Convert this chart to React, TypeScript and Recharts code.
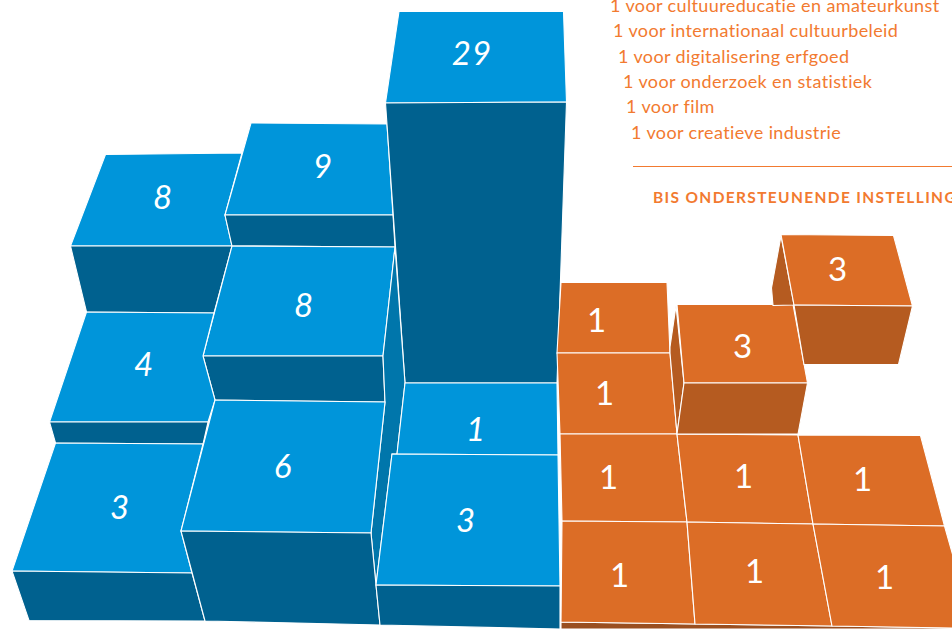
import { Polygon, ReferenceLine, Scatter, ScatterChart, XAxis, YAxis } from "recharts";

type Pt = [number, number];

// values printed on the blocks
const blueValues = [8, 9, 29, 8, 4, 1, 6, 3, 3];
const orangeValues = [1, 1, 1, 1, 3, 3, 1, 1, 1, 1];

const legendLines = [
  "1 voor cultuureducatie en amateurkunst",
  "1 voor internationaal cultuurbeleid",
  "1 voor digitalisering erfgoed",
  "1 voor onderzoek en statistiek",
  "1 voor film",
  "1 voor creatieve industrie"
];
const heading = "BIS ONDERSTEUNENDE INSTELLING";

const BLUE = "#0095da";
const BLUE_DARK = "#00618f";
const BLUE_SIDE = "#0076ab";
const ORANGE = "#dc6d26";
const ORANGE_DARK = "#b55b20";
const ORANGE_FLOOR = "#9a4f20";
const TEXT = "#f27a30";

// the picture is a hand drawn block pile, so the faces are laid out in axis units
const faces: { color: string; pts: Pt[] }[] = [
  { color: BLUE, pts: [[105.5, 154.5], [242, 153], [225, 215], [232, 246], [70.5, 246]] },
  { color: BLUE_DARK, pts: [[70.5, 246], [232, 246], [214, 313], [86.5, 312]] },
  { color: BLUE, pts: [[251, 123], [387, 124], [393, 215], [225, 215]] },
  { color: BLUE_DARK, pts: [[225, 215], [393, 215], [395, 247], [232, 246]] },
  { color: BLUE, pts: [[399, 11.5], [563.5, 11.5], [566.5, 102], [385.5, 103]] },
  { color: BLUE_DARK, pts: [[385.5, 103], [566.5, 102], [557, 383], [405, 383]] },
  { color: BLUE, pts: [[232, 246], [395, 247], [383, 356], [203, 356]] },
  { color: BLUE_DARK, pts: [[203, 356], [383, 356], [385, 402], [215, 400]] },
  { color: BLUE_SIDE, pts: [[395, 247], [405, 383], [397, 454], [392, 454], [376, 585], [371, 533], [385, 402], [383, 356]] },
  { color: BLUE, pts: [[86.5, 312], [214, 313], [203, 356], [215, 400], [208, 422], [49.5, 422]] },
  { color: BLUE_DARK, pts: [[49.5, 422], [208, 422], [203, 444], [55.5, 443]] },
  { color: BLUE, pts: [[55.5, 443], [203, 444], [181, 531], [192, 573], [12, 571]] },
  { color: BLUE_DARK, pts: [[12, 571], [192, 573], [205, 621], [29, 620.5]] },
  { color: BLUE, pts: [[215, 400], [385, 402], [371, 533], [181, 531]] },
  { color: BLUE_DARK, pts: [[181, 531], [371, 533], [376, 585], [380, 625], [205, 621]] },
  { color: BLUE, pts: [[405, 383], [557, 383], [558, 455], [397, 454]] },
  { color: BLUE, pts: [[392, 454], [558, 455], [560, 586], [376, 585]] },
  { color: BLUE_DARK, pts: [[376, 585], [560, 586], [560, 629], [380, 625]] },
  { color: ORANGE_FLOOR, pts: [[561, 622], [695, 624], [832, 626], [952, 628], [952, 629], [561, 629]] },
  { color: ORANGE, pts: [[561, 282.5], [667, 282.5], [670, 353], [557, 353]] },
  { color: ORANGE, pts: [[557, 353], [670, 353], [677, 434], [560, 434]] },
  { color: ORANGE, pts: [[560, 434], [677, 434], [687, 522], [562, 521]] },
  { color: ORANGE, pts: [[562, 521], [687, 522], [695, 624], [561, 622]] },
  { color: ORANGE, pts: [[677, 434], [798, 435], [813, 524], [687, 522]] },
  { color: ORANGE, pts: [[687, 522], [813, 524], [832, 626], [695, 624]] },
  { color: ORANGE, pts: [[798, 435], [920.5, 435.5], [944.5, 526], [813, 524]] },
  { color: ORANGE, pts: [[813, 524], [944.5, 526], [953, 556], [953, 628], [832, 626]] },
  { color: ORANGE_DARK, pts: [[676, 306], [684, 383], [677, 434], [670, 353], [670, 347]] },
  { color: ORANGE, pts: [[677, 304.5], [793, 304.5], [807.5, 383], [684, 383]] },
  { color: ORANGE_DARK, pts: [[684, 383], [807.5, 383], [798, 434], [677, 434]] },
  { color: ORANGE_DARK, pts: [[781, 236], [794, 305], [773, 305.5], [771.5, 288]] },
  { color: ORANGE, pts: [[781, 234.5], [893.5, 235.5], [912.5, 306], [794, 305]] },
  { color: ORANGE_DARK, pts: [[794, 305], [912.5, 306], [898.5, 364.5], [804, 364.5]] }
];

const blueSpots: Pt[] = [[163, 197], [323, 166], [472, 53], [304, 305], [144, 364], [476, 429], [283, 466], [120, 507], [466, 520]];
const orangeSpots: Pt[] = [[597, 320], [605, 393], [609, 477], [620, 575], [743, 346], [838, 269], [744, 476], [863, 479], [755, 571], [885, 577]];
const legendSpots: Pt[] = [[610, 12], [613, 37], [618, 63], [623, 88], [626, 113], [631, 139]];

const blueLabels = blueValues.map((value, i) => ({ x: blueSpots[i][0], y: blueSpots[i][1], value }));
const orangeLabels = orangeValues.map((value, i) => ({ x: orangeSpots[i][0], y: orangeSpots[i][1], value }));
const legendData = legendLines.map((text, i) => ({ x: legendSpots[i][0], y: legendSpots[i][1], text }));

const FONT = "Lato, 'Open Sans', sans-serif";

const Nothing = () => <g />;

function ValueMark({ cx, cy, payload, italic }: any) {
  return (
    <text
      x={cx}
      y={cy}
      dy="0.36em"
      textAnchor="middle"
      fill="#fff"
      fontFamily={FONT}
      fontSize={33}
      letterSpacing={1}
      fontStyle={italic ? "italic" : "normal"}
    >
      {payload.value}
    </text>
  );
}

function LegendMark({ cx, cy, payload }: any) {
  return (
    <text x={cx} y={cy} fill={TEXT} fontFamily={FONT} fontSize={18} letterSpacing={0.38}>
      {payload.text}
    </text>
  );
}

function HeadingMark({ cx, cy, payload }: any) {
  return (
    <text x={cx} y={cy} fill={TEXT} fontFamily={FONT} fontSize={15.5} fontWeight={700} letterSpacing={1.35}>
      {payload.text}
    </text>
  );
}

export default function App() {
  return (
    <div style={{ position: "fixed", left: 0, top: 0, width: 952, height: 629, overflow: "hidden", background: "#fff" }}>
      <ScatterChart width={952} height={629} margin={{ top: 0, right: 0, bottom: 0, left: 0 }}>
        <XAxis type="number" dataKey="x" domain={[0, 952]} allowDataOverflow hide />
        <YAxis type="number" dataKey="y" domain={[0, 629]} allowDataOverflow reversed hide />
        {faces.map((face, i) => (
          <Scatter
            key={i}
            data={face.pts.map(([x, y]) => ({ x, y }))}
            isAnimationActive={false}
            shape={Nothing}
            line={(p: any) => <Polygon points={p.points} fill={face.color} stroke="#fff" strokeWidth={1.1} />}
          />
        ))}
        <ReferenceLine segment={[{ x: 633, y: 166.5 }, { x: 952, y: 166.5 }]} stroke={TEXT} strokeWidth={1} />
        <Scatter data={blueLabels} isAnimationActive={false} shape={(p: any) => <ValueMark {...p} italic />} />
        <Scatter data={orangeLabels} isAnimationActive={false} shape={(p: any) => <ValueMark {...p} />} />
        <Scatter data={legendData} isAnimationActive={false} shape={LegendMark} />
        <Scatter data={[{ x: 653, y: 203, text: heading }]} isAnimationActive={false} shape={HeadingMark} />
      </ScatterChart>
    </div>
  );
}
